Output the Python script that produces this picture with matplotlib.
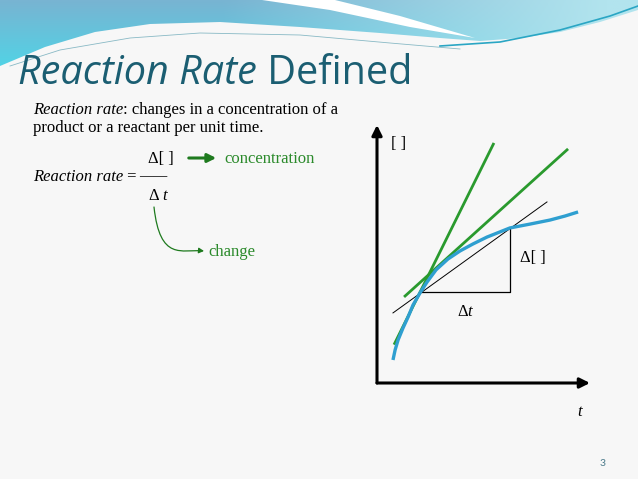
import numpy as np
import matplotlib
matplotlib.use("Agg")
import matplotlib.pyplot as plt
from matplotlib.path import Path
from matplotlib.patches import PathPatch, FancyArrowPatch

plt.rcParams["mathtext.fontset"] = "custom"
plt.rcParams["mathtext.rm"] = "Liberation Serif"
plt.rcParams["mathtext.it"] = "Liberation Serif:italic"

# ---------------- data (diagram values, in graph units) ----------------
curve_t = [0.75, 0.85, 0.99, 1.22, 1.46, 1.69, 2.02, 2.35, 2.77, 3.33, 3.90, 4.51, 5.16,
           6.24, 7.18, 8.12, 8.83, 9.44]
curve_c = [1.08, 1.55, 2.02, 2.58, 3.10, 3.66, 4.23, 4.74, 5.31, 5.82, 6.20, 6.53, 6.85,
           7.28, 7.46, 7.65, 7.84, 8.03]
secant_t = [0.75, 7.98]
secant_c = [3.29, 8.50]
tangent1_t = [0.80, 5.49]
tangent1_c = [1.80, 11.27]
tangent2_t = [1.27, 8.97]
tangent2_c = [4.04, 10.99]
triangle_t = [2.02, 6.24, 6.24]
triangle_c = [4.27, 4.27, 7.28]
graph_labels = ["[ ]", "Δ[ ]", "Δ$t$", "$t$"]

title_italic = "Reaction Rate"
title_plain = " Defined"
body_line1_it = "Reaction rate"
body_line1 = ": changes in a concentration of a"
body_line2 = "product or a reactant per unit time."
page_no = "3"

W, H = 638, 479
fig = plt.figure(figsize=(W / 100, H / 100), dpi=100)
fig.patch.set_facecolor("#f7f7f7")

# ---------------- background / header ----------------
bg = fig.add_axes([0, 0, 1, 1])
bg.set_xlim(0, W)
bg.set_ylim(H, 0)
bg.axis("off")

lower = [(638, 10), (600, 22), (560, 32), (520, 38), (480, 41), (440, 38), (380, 33),
         (300, 27), (220, 22), (150, 24), (95, 32), (45, 47), (0, 66)]
verts = [(0, 0), (638, 0)] + lower + [(0, 0)]
codes = [Path.MOVETO] + [Path.LINETO] * (len(verts) - 2) + [Path.CLOSEPOLY]
hdr_path = Path(verts, codes)

nx, ny = 320, 40
xs = np.linspace(0, 1, nx)[None, :]
ys = np.linspace(0, 1, ny)[:, None]
c_tl = np.array([0x78, 0xb4, 0xd2]) / 255
c_bl = np.array([0x50, 0xd4, 0xe6]) / 255
c_r = np.array([0xb2, 0xe4, 0xee]) / 255
left_col = c_tl[None, None, :] * (1 - ys[..., None]) + c_bl[None, None, :] * ys[..., None]
wx = np.clip((xs - 0.35) / 0.6, 0, 1)[..., None]
img = left_col * (1 - wx) + c_r[None, None, :] * wx
im = bg.imshow(img, extent=[0, 638, 70, 0], aspect="auto", zorder=1)
patch = PathPatch(hdr_path, facecolor="none", edgecolor="none")
bg.add_patch(patch)
im.set_clip_path(patch)

sw = [(262, 0), (335, 0), (400, 16), (475, 38), (410, 27), (330, 10), (262, 0)]
bg.add_patch(PathPatch(Path(sw, [Path.MOVETO] + [Path.LINETO] * 5 + [Path.CLOSEPOLY]),
                       facecolor="white", edgecolor="none", zorder=2))
bg.plot([10, 60, 130, 200, 300, 390, 460], [66, 50, 38, 33, 35, 43, 49],
        color="#5a9fb0", lw=0.6, alpha=0.7, zorder=2)
bg.plot([440, 500, 560, 610, 638], [46, 42, 30, 16, 6], color="#2aa6c4", lw=1.2, zorder=2)

# ---------------- title & body text ----------------
tcol = "#1b5e72"
tfs = 28.5
t1 = bg.text(18, 84, title_italic, fontsize=tfs, family="Open Sans", style="italic",
             color=tcol, va="baseline", zorder=3)
fig.canvas.draw()
x_end = t1.get_window_extent().x1
bg.text(x_end, H - 84, title_plain, fontsize=tfs, family="Open Sans", color=tcol,
        va="baseline", transform=None, zorder=3)

serif = "Liberation Serif"
fs = 12
a = bg.text(33, 114, body_line1_it, fontsize=fs, family=serif, style="italic", va="baseline")
fig.canvas.draw()
xe = a.get_window_extent().x1
bg.text(xe, H - 114, body_line1, fontsize=fs, family=serif, va="baseline", transform=None)
bg.text(33, 132, body_line2, fontsize=fs, family=serif, va="baseline")

green_txt = "#2b8a2b"
bg.text(148, 163, "Δ[ ]", fontsize=fs, family=serif, va="baseline")
bg.annotate("", xy=(219, 158), xytext=(186, 158),
            arrowprops=dict(arrowstyle="-|>,head_length=0.5,head_width=0.25",
                            color="#1e7a1e", lw=2.2))
bg.text(224, 163, "concentration", fontsize=fs, family=serif, color=green_txt, va="baseline")
r = bg.text(33, 181, "Reaction rate", fontsize=fs, family=serif, style="italic", va="baseline")
fig.canvas.draw()
xe = r.get_window_extent().x1
bg.text(xe, H - 181, " =", fontsize=fs, family=serif, va="baseline", transform=None)
bg.text(139, 180, "——", fontsize=fs * 0.85, family=serif, va="baseline")
bg.text(148, 200, "Δ $t$", fontsize=fs, family=serif, va="baseline")

cv = [(154, 207), (160, 262), (182, 249), (204, 251)]
cpath = Path(cv, [Path.MOVETO, Path.CURVE4, Path.CURVE4, Path.CURVE4])
bg.add_patch(FancyArrowPatch(path=cpath, arrowstyle="-|>,head_length=3,head_width=1.6",
                             color="#1e7a1e", lw=0.9))
bg.text(208, 256, "change", fontsize=fs, family=serif, color=green_txt, va="baseline")

bg.text(603, 466, page_no, fontsize=7.5, family="Lato", color="#4a7a8a", ha="center", va="baseline")

# ---------------- graph ----------------
ux = 21.3
ax = fig.add_axes([377 / W, (H - 383) / H, 213 / W, 258 / H])
ax.set_xlim(0, 213 / ux)
ax.set_ylim(0, 258 / ux)
ax.axis("off")
ax.patch.set_alpha(0)

ax.annotate("", xy=(1.0, 0), xytext=(0, 0), xycoords="axes fraction",
            arrowprops=dict(arrowstyle="-|>,head_length=0.6,head_width=0.3", color="black", lw=2.2,
                            shrinkA=0, shrinkB=0))
ax.annotate("", xy=(0, 1.0), xytext=(0, 0), xycoords="axes fraction",
            arrowprops=dict(arrowstyle="-|>,head_length=0.6,head_width=0.3", color="black", lw=2.2,
                            shrinkA=0, shrinkB=0))

green = "#2a9a2e"
blue = "#2f9fd0"
ax.plot(secant_t, secant_c, color="black", lw=0.7, zorder=2)
ax.plot(triangle_t, triangle_c, color="black", lw=0.9, zorder=2)
ax.plot(tangent1_t, tangent1_c, color=green, lw=2.0, solid_capstyle="butt", zorder=3)
ax.plot(tangent2_t, tangent2_c, color=green, lw=2.0, solid_capstyle="butt", zorder=3)
ax.plot(curve_t, curve_c, color=blue, lw=2.4, solid_capstyle="butt", solid_joinstyle="round", zorder=4)

gfs = 12
ax.text(0.99, 11.2, graph_labels[0], fontsize=gfs, family=serif, va="center", ha="center")
ax.text(7.3, 5.87, graph_labels[1], fontsize=gfs, family=serif, va="center", ha="center")
ax.text(4.18, 3.33, graph_labels[2], fontsize=gfs, family=serif, va="center", ha="center")
ax.text(9.53, -1.36, graph_labels[3], fontsize=gfs, family=serif, va="center", ha="center",
        clip_on=False)

fig.savefig("out.png", dpi=100, facecolor=fig.get_facecolor())
